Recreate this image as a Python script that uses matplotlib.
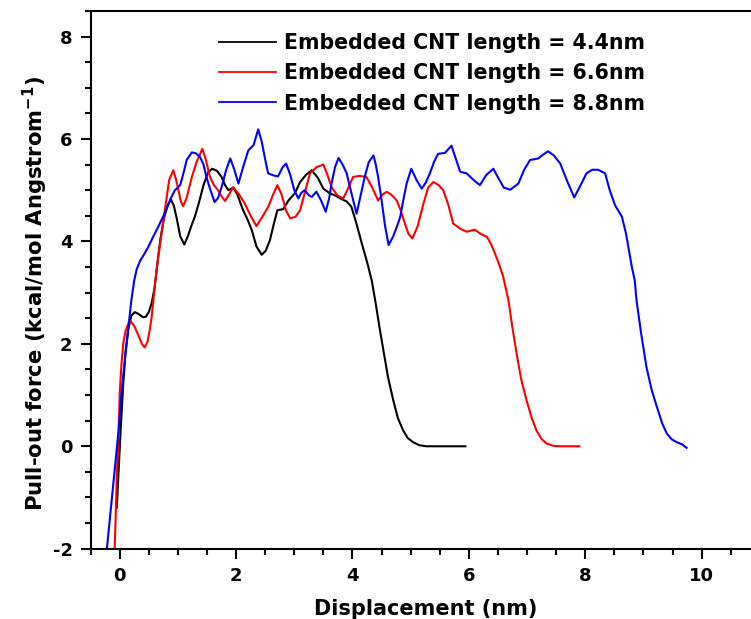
import matplotlib
matplotlib.use("Agg")
import matplotlib.pyplot as plt
from matplotlib.ticker import MultipleLocator

plt.rcParams['font.family'] = ['DejaVu Sans']
plt.rcParams['font.weight'] = 'bold'
plt.rcParams['axes.unicode_minus'] = False
plt.rcParams['mathtext.default'] = 'bf'

labels = ["Embedded CNT length = 4.4nm",
          "Embedded CNT length = 6.6nm",
          "Embedded CNT length = 8.8nm"]
colors = ["#000000", "#ff0000", "#0000ff"]

x_44 = [-0.05, -0.02, 0.02, 0.06, 0.10, 0.15, 0.20, 0.26, 0.33, 0.40, 0.45, 0.50, 0.55, 0.60, 0.65, 0.70,
        0.76, 0.82, 0.88, 0.93, 0.98, 1.04, 1.11, 1.17, 1.23, 1.29, 1.36, 1.44, 1.52, 1.59, 1.67, 1.75,
        1.81, 1.87, 1.95, 2.02, 2.12, 2.20, 2.27, 2.35, 2.44, 2.51, 2.58, 2.65, 2.71, 2.81, 2.90, 3.01,
        3.10, 3.20, 3.30, 3.40, 3.50, 3.61, 3.70, 3.79, 3.90, 3.98, 4.06, 4.16, 4.25, 4.33, 4.39, 4.46,
        4.53, 4.61, 4.70, 4.78, 4.87, 4.95, 5.04, 5.15, 5.27, 5.60, 5.94]
y_44 = [-1.2, -0.5, 0.4, 1.2, 1.85, 2.3, 2.55, 2.62, 2.58, 2.52, 2.53, 2.62, 2.8, 3.1, 3.6, 4.05,
        4.45, 4.7, 4.82, 4.7, 4.45, 4.1, 3.94, 4.1, 4.3, 4.48, 4.75, 5.1, 5.35, 5.42, 5.38, 5.26,
        5.1, 5.0, 5.05, 4.92, 4.61, 4.42, 4.22, 3.9, 3.74, 3.82, 4.02, 4.35, 4.61, 4.63, 4.8, 4.94,
        5.16, 5.3, 5.39, 5.25, 5.03, 4.94, 4.9, 4.84, 4.78, 4.68, 4.38, 3.96, 3.6, 3.24, 2.85, 2.35,
        1.88, 1.35, 0.90, 0.55, 0.31, 0.16, 0.08, 0.02, 0.0, 0.0, 0.0]

x_66 = [-0.09, -0.07, -0.05, -0.02, 0.0, 0.03, 0.06, 0.10, 0.15, 0.19, 0.25, 0.32, 0.38, 0.43, 0.48, 0.52,
        0.55, 0.60, 0.64, 0.70, 0.75, 0.80, 0.85, 0.92, 0.97, 1.01, 1.05, 1.09, 1.15, 1.24, 1.32, 1.42,
        1.48, 1.55, 1.62, 1.69, 1.75, 1.81, 1.88, 1.95, 2.05, 2.15, 2.25, 2.35, 2.45, 2.55, 2.63, 2.71,
        2.78, 2.86, 2.93, 3.02, 3.10, 3.18, 3.27, 3.38, 3.50, 3.57, 3.64, 3.74, 3.84, 3.93, 4.01, 4.12,
        4.24, 4.34, 4.44, 4.52, 4.59, 4.68, 4.76, 4.83, 4.90, 4.96, 5.03, 5.12, 5.22, 5.30, 5.39, 5.48,
        5.56, 5.65, 5.73, 5.85, 5.96, 6.10, 6.20, 6.31, 6.38, 6.45, 6.52, 6.59, 6.64, 6.68, 6.75, 6.82,
        6.90, 6.99, 7.08, 7.16, 7.25, 7.34, 7.45, 7.57, 7.90]
y_66 = [-2.1, -1.4, -0.6, 0.2, 1.03, 1.6, 2.0, 2.25, 2.40, 2.44, 2.35, 2.17, 2.0, 1.93, 2.05, 2.3,
        2.53, 3.1, 3.5, 4.0, 4.41, 4.8, 5.2, 5.39, 5.2, 5.0, 4.78, 4.69, 4.85, 5.26, 5.55, 5.81,
        5.6, 5.26, 5.1, 5.0, 4.88, 4.79, 4.92, 5.06, 4.92, 4.74, 4.5, 4.30, 4.48, 4.67, 4.9, 5.10,
        4.92, 4.6, 4.45, 4.48, 4.61, 4.95, 5.33, 5.45, 5.50, 5.3, 5.06, 4.9, 4.84, 5.05, 5.26, 5.28,
        5.26, 5.05, 4.80, 4.92, 4.97, 4.9, 4.80, 4.6, 4.35, 4.15, 4.06, 4.3, 4.74, 5.05, 5.16, 5.1,
        5.0, 4.7, 4.35, 4.25, 4.19, 4.23, 4.15, 4.09, 3.95, 3.76, 3.55, 3.31, 3.05, 2.85, 2.3, 1.81,
        1.3, 0.90, 0.55, 0.31, 0.14, 0.05, 0.01, 0.0, 0.0]

x_88 = [-0.22, -0.15, -0.08, -0.02, 0.03, 0.09, 0.15, 0.20, 0.25, 0.29, 0.35, 0.42, 0.49, 0.57, 0.66, 0.73,
        0.81, 0.88, 0.95, 1.04, 1.10, 1.15, 1.24, 1.31, 1.38, 1.44, 1.49, 1.56, 1.63, 1.69, 1.75, 1.83,
        1.90, 1.97, 2.04, 2.12, 2.21, 2.30, 2.38, 2.44, 2.50, 2.55, 2.64, 2.72, 2.80, 2.86, 2.93, 3.00,
        3.07, 3.12, 3.18, 3.25, 3.30, 3.38, 3.46, 3.54, 3.60, 3.64, 3.70, 3.76, 3.83, 3.90, 3.98, 4.07,
        4.14, 4.21, 4.28, 4.36, 4.40, 4.44, 4.50, 4.56, 4.62, 4.70, 4.76, 4.82, 4.88, 4.93, 5.01, 5.10,
        5.19, 5.26, 5.33, 5.40, 5.47, 5.59, 5.70, 5.78, 5.85, 5.96, 6.08, 6.19, 6.30, 6.42, 6.50, 6.60,
        6.71, 6.85, 6.95, 7.05, 7.19, 7.28, 7.36, 7.46, 7.57, 7.68, 7.81, 7.92, 8.02, 8.12, 8.22, 8.34,
        8.42, 8.51, 8.63, 8.70, 8.74, 8.80, 8.85, 8.88, 8.96, 9.05, 9.14, 9.23, 9.32, 9.40, 9.48, 9.57,
        9.66, 9.74]
y_88 = [-2.0, -1.2, -0.40, 0.3, 1.03, 1.7, 2.33, 2.85, 3.24, 3.45, 3.62, 3.75, 3.89, 4.08, 4.28, 4.45,
        4.64, 4.85, 5.0, 5.10, 5.35, 5.59, 5.74, 5.72, 5.65, 5.5, 5.26, 5.0, 4.77, 4.85, 5.06, 5.4,
        5.62, 5.4, 5.13, 5.45, 5.78, 5.88, 6.19, 5.95, 5.6, 5.33, 5.29, 5.27, 5.45, 5.52, 5.3, 5.0,
        4.84, 4.95, 5.0, 4.9, 4.87, 4.97, 4.8, 4.58, 4.85, 5.13, 5.45, 5.63, 5.5, 5.33, 4.95, 4.54,
        4.9, 5.26, 5.55, 5.68, 5.5, 5.26, 4.8, 4.3, 3.93, 4.1, 4.28, 4.48, 4.85, 5.13, 5.42, 5.2,
        5.03, 5.15, 5.33, 5.55, 5.71, 5.73, 5.87, 5.6, 5.36, 5.33, 5.2, 5.10, 5.3, 5.42, 5.25, 5.05,
        5.01, 5.13, 5.4, 5.59, 5.62, 5.7, 5.76, 5.68, 5.52, 5.2, 4.86, 5.1, 5.33, 5.40, 5.40, 5.33,
        5.0, 4.71, 4.48, 4.15, 3.89, 3.5, 3.24, 2.85, 2.2, 1.55, 1.1, 0.77, 0.45, 0.25, 0.14, 0.08,
        0.04, -0.03]

fig = plt.figure(figsize=(7.51, 6.19), dpi=100)
ax = fig.add_axes([90.6 / 751, 70.3 / 619, 669.3 / 751, 537.7 / 619])

for xs, ys, c, lab in zip([x_44, x_66, x_88], [y_44, y_66, y_88], colors, labels):
    ax.plot(xs, ys, color=c, lw=1.5, label=lab, solid_joinstyle='round')

ax.set_xlim(-0.5, 11)
ax.set_ylim(-2, 8.5)
ax.xaxis.set_major_locator(MultipleLocator(2))
ax.xaxis.set_minor_locator(MultipleLocator(0.5))
ax.yaxis.set_major_locator(MultipleLocator(2))
ax.yaxis.set_minor_locator(MultipleLocator(0.5))
ax.tick_params(which='major', direction='out', length=7, width=1.5, labelsize=13, pad=6)
ax.tick_params(which='minor', direction='out', length=4, width=1.5)
for s in ax.spines.values():
    s.set_linewidth(1.5)
for lbl in ax.get_xticklabels() + ax.get_yticklabels():
    lbl.set_fontweight('bold')

ax.set_xlabel("Displacement (nm)", fontsize=15, fontweight='bold', labelpad=10)
ax.set_ylabel("Pull-out force (kcal/mol Angstrom$^{-1}$)", fontsize=15.2, fontweight='bold')
ax.yaxis.set_label_coords((50 - 90.6) / 669.3, (619 - 293.5 - 70.3) / 537.7)

leg = ax.legend(loc='upper left', bbox_to_anchor=(219 / 751, 1 - 33 / 619), bbox_transform=fig.transFigure,
                frameon=False, prop={'size': 14.8, 'weight': 'bold'}, handlelength=2.75, handletextpad=0.4,
                labelspacing=0.5, borderpad=0, borderaxespad=0)
for l in leg.get_lines():
    l.set_linewidth(1.3)

fig.savefig("out.png", dpi=100)
